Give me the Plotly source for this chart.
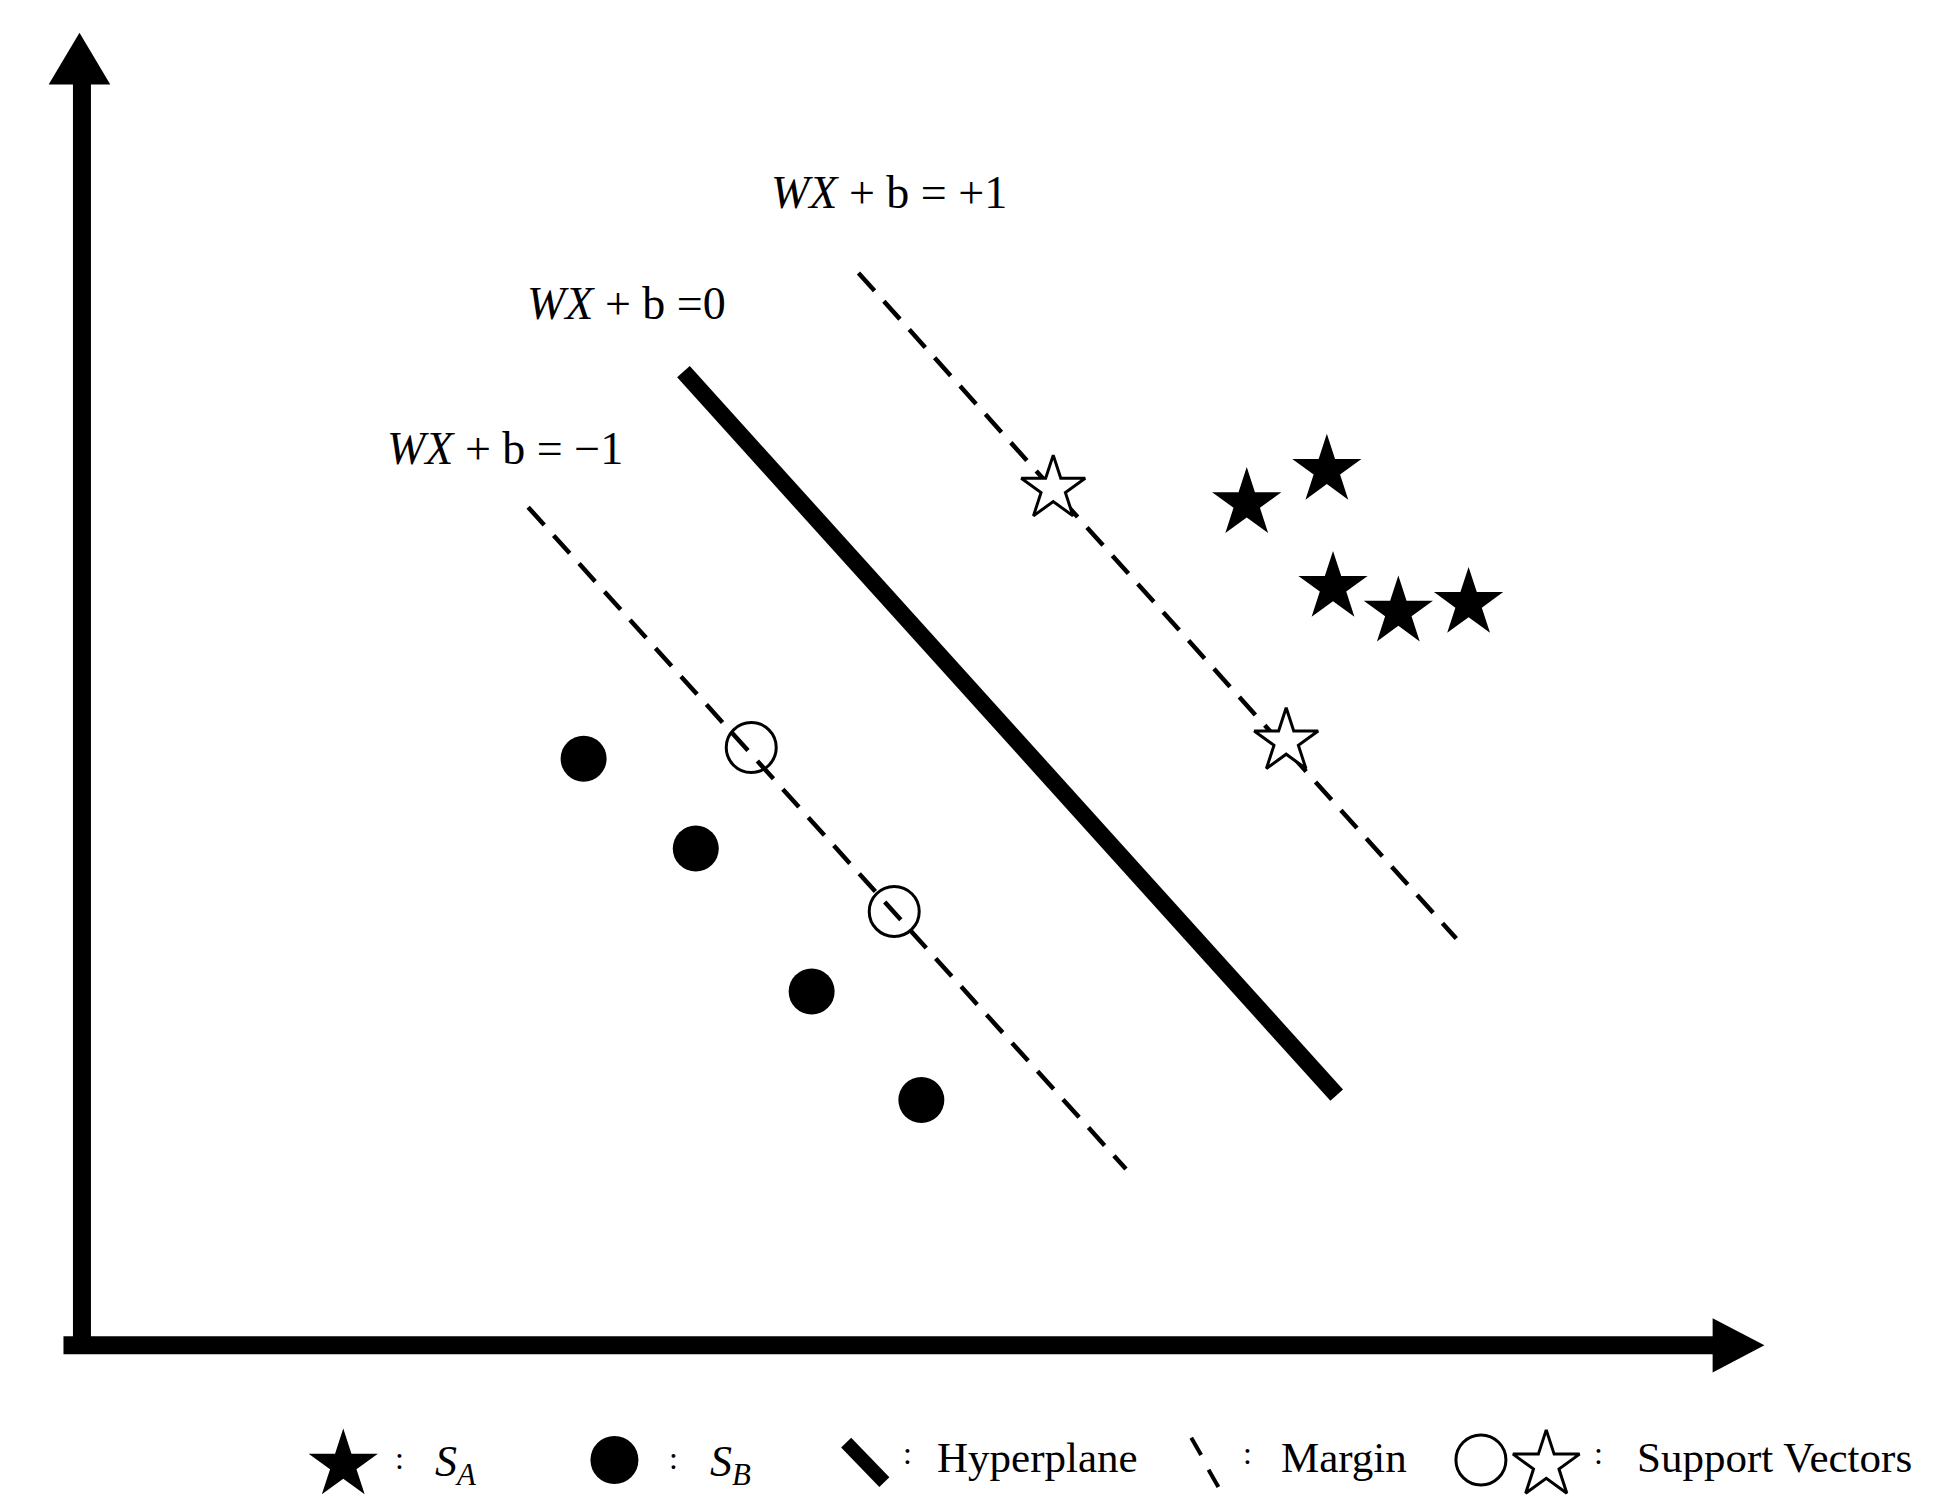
import plotly.graph_objects as go

S = 1945 / 1578.0  # scale from sketch units to pixels

# data (sketch units)
star_x = [1005, 1070, 1075, 1128, 1185]
star_y = [402, 375, 470, 490, 483]
sv_star_x = [848, 1037]
sv_star_y = [390, 595]
dot_x = [467, 558, 652, 741]
dot_y = [609, 682, 798, 886]
sv_dot_x = [603, 719]
sv_dot_y = [600, 733]
hyper_x = [548, 1078]; hyper_y = [295, 882]
mplus_x = [690, 1175]; mplus_y = [215, 755]
mminus_x = [422, 907]; mminus_y = [405, 942]

def s(v):
    return [a * S for a in v]

fig = go.Figure()
FONT = "Liberation Serif"

fig.add_trace(go.Scatter(x=s(hyper_x), y=s(hyper_y), mode="lines", line=dict(color="black", width=17)))
fig.add_trace(go.Scatter(x=s(mplus_x), y=s(mplus_y), mode="lines", line=dict(color="black", width=4.5, dash="24px,14px")))
fig.add_trace(go.Scatter(x=s(mminus_x), y=s(mminus_y), mode="lines", line=dict(color="black", width=4.5, dash="24px,14px")))
fig.add_trace(go.Scatter(x=s(star_x), y=s(star_y), mode="markers", marker=dict(symbol="star", size=52, color="black")))
fig.add_trace(go.Scatter(x=s(sv_star_x), y=s(sv_star_y), mode="markers", marker=dict(symbol="star", size=48, color="white", line=dict(color="black", width=3))))
fig.add_trace(go.Scatter(x=s(dot_x), y=s(dot_y), mode="markers", marker=dict(symbol="circle", size=46, color="black")))
fig.add_trace(go.Scatter(x=s(sv_dot_x), y=s(sv_dot_y), mode="markers", marker=dict(symbol="circle-open", size=50, color="black", line=dict(width=3))))

shapes = [
    dict(type="line", x0=60*S, y0=55*S, x1=60*S, y1=1092*S, line=dict(color="black", width=18)),
    dict(type="line", x0=45*S, y0=1085*S, x1=1390*S, y1=1085*S, line=dict(color="black", width=18)),
    dict(type="path", path=f"M {33*S} {62*S} L {58*S} {20*S} L {83*S} {62*S} Z", fillcolor="black", line=dict(width=0)),
    dict(type="path", path=f"M {1383*S} {1063*S} L {1425*S} {1085*S} L {1383*S} {1107*S} Z", fillcolor="black", line=dict(width=0)),
    dict(type="line", x0=680*S, y0=1164*S, x1=711*S, y1=1196*S, line=dict(color="black", width=14)),
    dict(type="line", x0=960*S, y0=1160*S, x1=968*S, y1=1174*S, line=dict(color="black", width=4)),
    dict(type="line", x0=974*S, y0=1186*S, x1=982*S, y1=1200*S, line=dict(color="black", width=4)),
]

fig.add_trace(go.Scatter(x=[272*S], y=[1182*S], mode="markers", marker=dict(symbol="star", size=52, color="black")))
fig.add_trace(go.Scatter(x=[492*S], y=[1178*S], mode="markers", marker=dict(symbol="circle", size=48, color="black")))
fig.add_trace(go.Scatter(x=[1195*S], y=[1178*S], mode="markers", marker=dict(symbol="circle-open", size=50, color="black", line=dict(width=3))))
fig.add_trace(go.Scatter(x=[1248*S], y=[1182*S], mode="markers", marker=dict(symbol="star", size=50, color="white", line=dict(color="black", width=3))))

annots = []
def txt(x, y, t, size=46, anchor="center"):
    annots.append(dict(x=x*S, y=y*S, text=t, showarrow=False, xanchor=anchor, yanchor="middle",
                       font=dict(family=FONT, size=size, color="black")))

txt(715, 150, "<i>WX</i> + b = +1")
txt(502, 240, "<i>WX</i> + b =0")
txt(403, 357, "<i>WX</i> + b = −1")
txt(318, 1176, ":", 32)
txt(345, 1182, "<i>S</i><sub><i>A</i></sub>", 44, "left")
txt(540, 1176, ":", 32)
txt(568, 1182, "<i>S</i><sub><i>B</i></sub>", 44, "left")
txt(730, 1172, ":", 32)
txt(752, 1176, "Hyperplane", 43, "left")
txt(1006, 1172, ":", 32)
txt(1031, 1176, "Margin", 43, "left")
txt(1290, 1172, ":", 32)
txt(1320, 1176, "Support Vectors", 43, "left")

fig.update_layout(
    width=1945, height=1511, margin=dict(l=0, r=0, t=0, b=0),
    paper_bgcolor="white", plot_bgcolor="white", showlegend=False,
    xaxis=dict(range=[0, 1945], visible=False, fixedrange=True),
    yaxis=dict(range=[1511, 0], visible=False, fixedrange=True),
    shapes=shapes, annotations=annots,
)
fig.write_html("out.html")
